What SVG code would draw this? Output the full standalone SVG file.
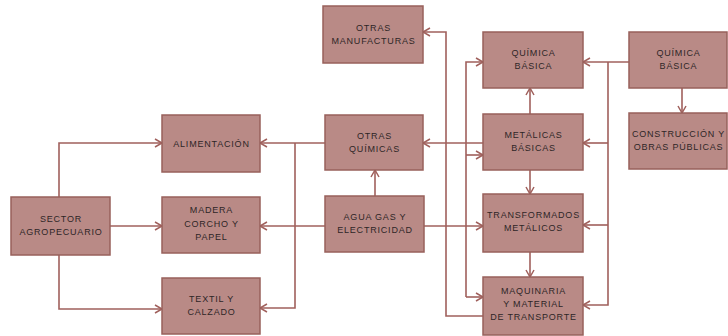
<svg xmlns="http://www.w3.org/2000/svg" width="728" height="336" viewBox="0 0 728 336">
<style>
.box{fill:#b98a86;stroke:#98605b;stroke-width:1.5}
.t{font-family:"Liberation Sans",Arial,sans-serif;font-size:9px;letter-spacing:0.8px;fill:#2e2626;text-anchor:middle}
.c{fill:none;stroke:#a0605c;stroke-width:1.6;marker-end:url(#a)}
</style>
<defs>
<marker id="a" markerUnits="userSpaceOnUse" markerWidth="10" markerHeight="10" refX="8" refY="5" orient="auto">
<path d="M1,1 L8,5 L1,9" fill="none" stroke="#a0605c" stroke-width="1.5"/>
</marker>
</defs>
<rect width="728" height="336" fill="#fff"/>
<g id="connectors">
<path class="c" d="M59,197 V143 H162"/>
<path class="c" d="M110,226 H162"/>
<path class="c" d="M59,255 V309 H162"/>
<path class="c" d="M325,143 H260"/>
<path class="c" d="M295,143 V308 H260"/>
<path class="c" d="M325,226 H260"/>
<path class="c" d="M375,196 V170"/>
<path class="c" d="M483,143 H423"/>
<path class="c" d="M424,226 H483"/>
<path class="c" d="M483,316 H446 V32 H423"/>
<path class="c" d="M466,297 V62 H483"/>
<path class="c" d="M466,155 H483"/>
<path class="c" d="M466,297 H483"/>
<path class="c" d="M530,114 V88"/>
<path class="c" d="M530,170 V194"/>
<path class="c" d="M530,252 V277"/>
<path class="c" d="M629,62 H583"/>
<path class="c" d="M608,62 V305 H583"/>
<path class="c" d="M608,143 H583"/>
<path class="c" d="M608,225 H583"/>
<path class="c" d="M682,88 V113"/>
</g>
<g id="sector"><rect class="box" x="11" y="197" width="99" height="58"/><text class="t" x="61" y="222">SECTOR</text><text class="t" x="61" y="235">AGROPECUARIO</text></g>
<g id="alimentacion"><rect class="box" x="162" y="115" width="98" height="57"/><text class="t" x="211.5" y="146.5">ALIMENTACIÓN</text></g>
<g id="madera"><rect class="box" x="162" y="197" width="98" height="56"/><text class="t" x="211.5" y="213">MADERA</text><text class="t" x="211.5" y="226.5">CORCHO Y</text><text class="t" x="211.5" y="240">PAPEL</text></g>
<g id="textil"><rect class="box" x="162" y="278" width="98" height="56"/><text class="t" x="211.5" y="302">TEXTIL Y</text><text class="t" x="211.5" y="315">CALZADO</text></g>
<g id="otras-manufacturas"><rect class="box" x="323" y="6" width="100" height="57"/><text class="t" x="373.5" y="31">OTRAS</text><text class="t" x="373.5" y="44">MANUFACTURAS</text></g>
<g id="otras-quimicas"><rect class="box" x="325" y="115" width="98" height="55"/><text class="t" x="374.5" y="139">OTRAS</text><text class="t" x="374.5" y="152">QUÍMICAS</text></g>
<g id="agua"><rect class="box" x="325" y="196" width="99" height="56"/><text class="t" x="375" y="220">AGUA GAS Y</text><text class="t" x="375" y="233">ELECTRICIDAD</text></g>
<g id="quimica-basica-1"><rect class="box" x="483" y="32" width="100" height="56"/><text class="t" x="533.5" y="56">QUÍMICA</text><text class="t" x="533.5" y="69">BÁSICA</text></g>
<g id="quimica-basica-2"><rect class="box" x="629" y="32" width="98" height="56"/><text class="t" x="678.5" y="56">QUÍMICA</text><text class="t" x="678.5" y="69">BÁSICA</text></g>
<g id="metalicas"><rect class="box" x="483" y="114" width="100" height="56"/><text class="t" x="533.5" y="138">METÁLICAS</text><text class="t" x="533.5" y="151">BÁSICAS</text></g>
<g id="construccion"><rect class="box" x="629" y="113" width="98" height="56"/><text class="t" x="678.5" y="137">CONSTRUCCIÓN Y</text><text class="t" x="678.5" y="150">OBRAS PÚBLICAS</text></g>
<g id="transformados"><rect class="box" x="483" y="194" width="100" height="58"/><text class="t" x="533.5" y="218">TRANSFORMADOS</text><text class="t" x="533.5" y="231">METÁLICOS</text></g>
<g id="maquinaria"><rect class="box" x="483" y="277" width="100" height="58"/><text class="t" x="533.5" y="294">MAQUINARIA</text><text class="t" x="533.5" y="307">Y MATERIAL</text><text class="t" x="533.5" y="320">DE TRANSPORTE</text></g>
</svg>
